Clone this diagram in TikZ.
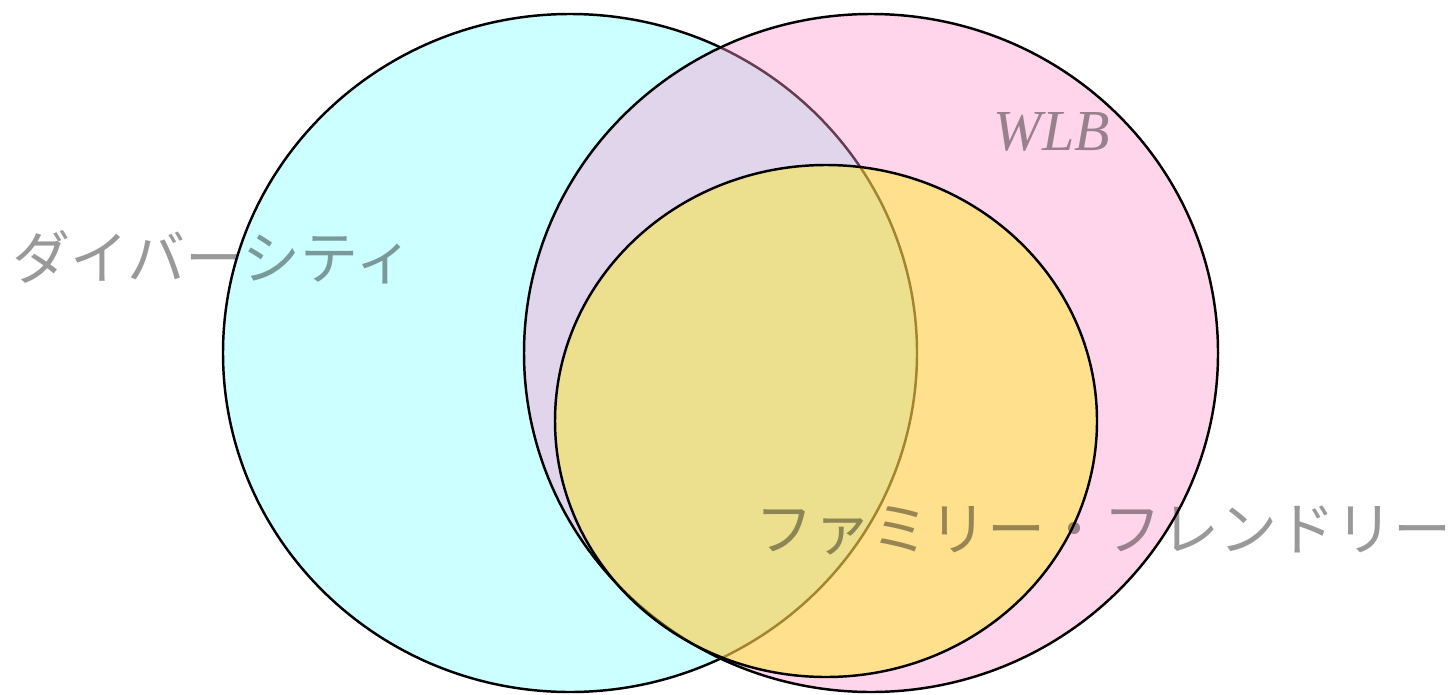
\documentclass[tikz,border=0pt]{standalone}
\usepackage{fontspec}
\setmainfont{Liberation Serif}
\newfontfamily\jpfont{Noto Sans CJK JP}
\usetikzlibrary{positioning}

\definecolor{divcol}{RGB}{204,255,255}
\definecolor{wlbcol}{RGB}{255,150,205}
\definecolor{famcol}{RGB}{255,240,0}

\begin{document}
\begin{tikzpicture}[x=0.01cm,y=-0.01cm,
  set/.style={draw=black,line width=0.7pt},
  lbl/.style={inner sep=0pt,anchor=base west,text opacity=0.4,
    font=\fontsize{16.5pt}{20pt}\selectfont}]
\useasboundingbox (0,0) rectangle (1455,694);
% the three sets
\path[set,fill=divcol] (570,353) ellipse [x radius=347,y radius=339];
\path[set,fill=wlbcol,fill opacity=0.4] (871,353) ellipse [x radius=347,y radius=339];
\path[set,fill=famcol,fill opacity=0.4] (826,421) ellipse [x radius=271,y radius=256];
% labels
\node[lbl,font=\fontsize{16.5pt}{20pt}\selectfont\jpfont](div) at(12,279){ダイバーシティ};
\node[lbl,font=\fontsize{16.5pt}{20pt}\selectfont\itshape](wlb) at(993,150){WLB};
\node[lbl,font=\fontsize{16.5pt}{20pt}\selectfont\jpfont](fam) at(755,550){ファミリー・フレンドリー};
\end{tikzpicture}
\end{document}
